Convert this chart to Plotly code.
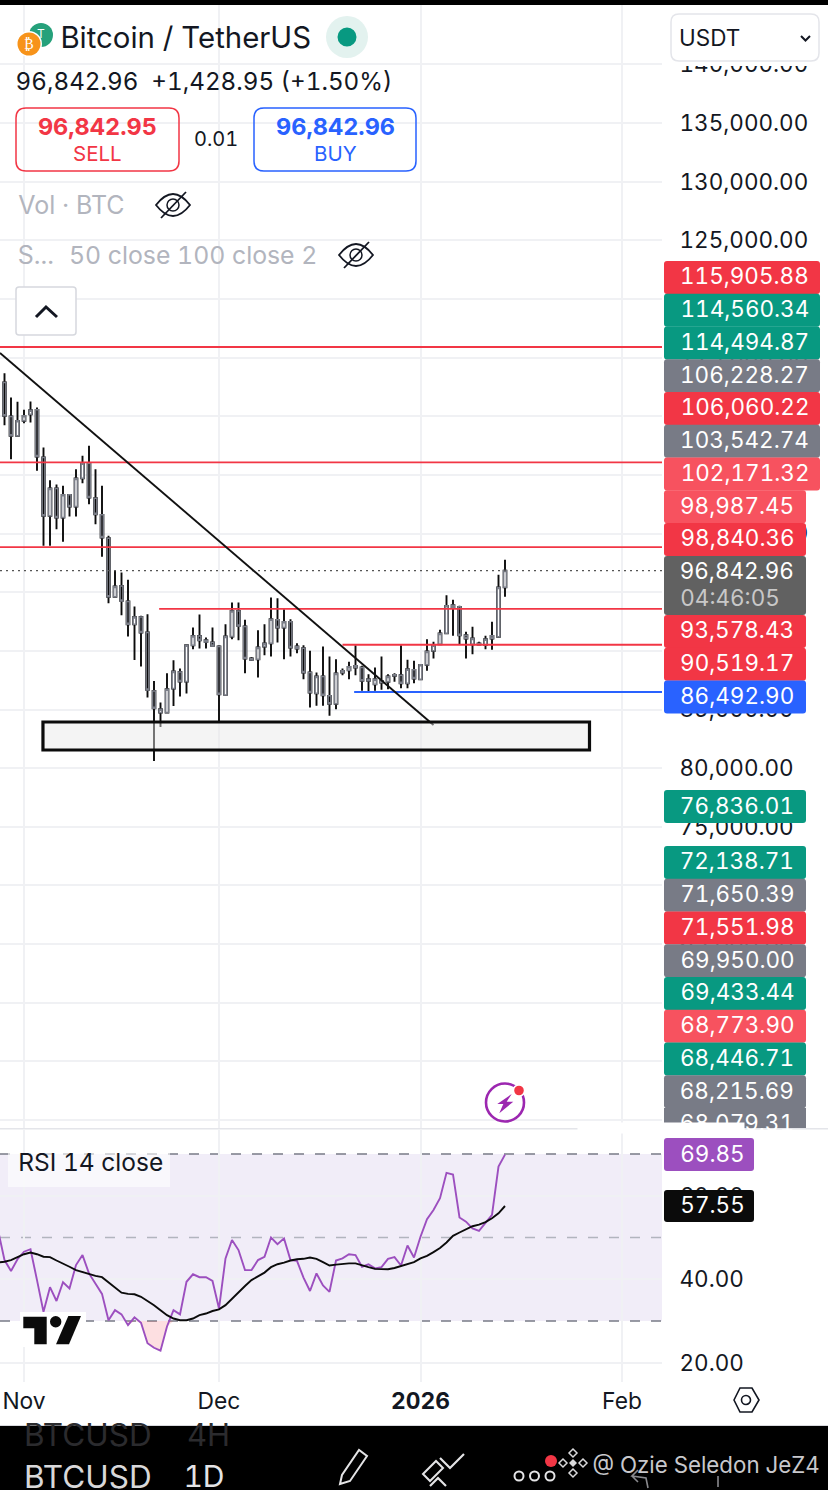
"""
BTC/USDT daily chart with RSI pane, mobile trading app look
"""

import pandas as pd
import plotly.graph_objects as go

# Daily candles, 29 Oct 2025 to 14 Jan 2026
opens = [112877, 109978, 108329, 109608, 110177, 110546, 106482, 101509, 103839, 101366,
         103299, 102304, 104720, 105999, 103015, 101594, 99604, 94603, 95540, 94205,
         92272, 92897, 91562, 86588, 84741, 84741, 86787, 88208, 87384, 90482,
         91277, 90908, 90709, 90368, 86247, 91221, 93409, 92073, 89345, 89288,
         90368, 90654, 92643, 91990, 92473, 90370, 90228, 88153, 86391, 87812,
         86164, 85482, 88153, 88352, 88579, 88579, 87585, 87158, 87442, 87357,
         87954, 87926, 87244, 88380, 87585, 88807, 90000, 90569, 91507, 93894,
         93752, 91336, 90569, 90626, 90512, 91279, 91194, 95414]
highs = [113672, 111598, 111228, 110546, 111257, 110745, 107335, 104550, 104180, 104066,
         103356, 105487, 106624, 107477, 105487, 104066, 99803, 96819, 96677, 96052,
         93778, 92983, 93125, 87441, 85593, 88094, 89203, 88492, 90567, 91988,
         93096, 91135, 91988, 90482, 92272, 94119, 94119, 92642, 89487, 91761,
         92272, 94547, 94491, 93553, 92700, 90654, 90483, 90000, 88153, 90370,
         89517, 89290, 88494, 89062, 90483, 88721, 88011, 88579, 89517, 88011,
         88096, 90483, 89233, 89148, 88863, 90995, 90768, 91791, 94746, 94349,
         93837, 91620, 92047, 90768, 91279, 92473, 96480, 97759]
lows = [109239, 106340, 108329, 109409, 109466, 105345, 98951, 98951, 100372, 99292,
        101452, 101452, 104294, 102503, 100798, 98013, 94063, 94603, 93039, 91221,
        89231, 88663, 86020, 80620, 83519, 84741, 85309, 86105, 86361, 90141,
        90197, 90197, 90368, 84030, 86247, 90993, 90908, 88094, 89146, 87725,
        89629, 89517, 90711, 89290, 89517, 89801, 87585, 85169, 85311, 85311,
        84458, 85027, 87926, 87585, 87926, 86590, 86505, 86590, 86675, 86732,
        87357, 86817, 86817, 87244, 87585, 88295, 89347, 90569, 91507, 91279,
        90569, 89347, 89716, 90483, 90142, 90086, 91137, 94604]
closes = [110035, 108329, 109608, 110035, 110518, 106567, 101509, 103839, 101366, 103299,
          102304, 104692, 105999, 103072, 101651, 99661, 94603, 95484, 94261, 92272,
          92897, 91562, 86673, 85110, 85025, 86730, 88236, 87384, 90482, 91277,
          90908, 90766, 90425, 86304, 91221, 93409, 92130, 89345, 89231, 90283,
          90624, 92700, 91990, 92473, 90284, 90199, 88153, 86448, 87812, 86220,
          85482, 88068, 88295, 88636, 88721, 87442, 87442, 87585, 87300, 87812,
          87869, 87244, 88437, 87641, 88807, 89943, 90483, 91478, 93837, 93695,
          91336, 91052, 91052, 90540, 90995, 91052, 95400, 96842.96]

# RSI and its average, one value more on the left (28 Oct)
rsi = [51.8, 44.6, 42.0, 44.8, 46.6, 47.2, 39.8, 32.2, 38.1, 34.8, 39.3, 37.8, 43.4, 45.8,
       41.4, 39.0, 36.5, 30.2, 32.6, 31.6, 29.0, 30.9, 29.6, 24.7, 23.6, 22.9, 28.7, 32.6,
       31.6, 39.4, 41.2, 40.5, 40.5, 39.6, 33.0, 45.0, 49.4, 47.0, 42.2, 42.2, 44.6, 45.4,
       50.0, 48.4, 49.8, 44.6, 44.4, 40.4, 37.2, 41.4, 38.5, 37.0, 44.5, 45.0, 46.0, 45.8,
       43.0, 43.6, 42.6, 42.9, 44.9, 45.3, 43.3, 48.1, 45.2, 50.2, 54.4, 56.6, 59.4, 65.5,
       65.1, 54.8, 53.8, 52.2, 51.6, 53.5, 55.4, 67.0, 69.85]
rsi_ma = [44.0, 44.2, 44.6, 45.4, 46.0, 46.4, 46.0, 45.4, 45.3, 44.5, 43.8, 43.0, 42.2, 41.7,
          41.2, 40.8, 40.5, 39.2, 38.0, 36.8, 36.5, 36.4, 35.8, 34.9, 33.8, 32.6, 31.4, 30.6,
          30.2, 30.2, 30.6, 31.4, 31.8, 32.4, 32.8, 33.8, 35.4, 37.0, 38.4, 39.8, 40.6, 41.6,
          42.9, 43.6, 44.0, 44.5, 44.8, 44.9, 45.2, 44.9, 44.1, 43.3, 43.5, 43.7, 43.8, 43.8,
          43.3, 42.9, 42.5, 42.4, 42.4, 42.7, 43.2, 43.7, 44.1, 45.0, 45.6, 46.5, 47.5, 48.8,
          50.4, 51.2, 52.0, 52.7, 53.1, 53.7, 54.6, 55.8, 57.55]

dates = pd.date_range('2025-10-29', periods=len(closes), freq='D')
rsi_dates = pd.date_range('2025-10-28', periods=len(rsi), freq='D')

# Drawn levels
red_levels = [115905.88, 106060.22, 98840.36, 93578.43, 90519.17]
red_starts = ['2025-10-28', '2025-10-28', '2025-10-28', '2025-11-21 19:00', '2025-12-20']
blue_level = 86492.90
blue_start = '2025-12-21 19:00'
last_price = 96842.96
trend_x = ['2025-10-28 07:23', '2026-01-03']
trend_y = [115392, 83680]
zone_x = ['2025-11-03 22:00', '2026-01-27']
zone_y = [81548, 83935]

# Price tags on the right axis
tags_top = ['115,905.88', '114,560.34', '114,494.87', '106,228.27', '106,060.22', '103,542.74',
            '102,171.32', '98,987.45', '98,840.36']
tags_top_colors = ['red', 'green', 'green', 'gray', 'red', 'gray', 'pink', 'pink', 'red']
tags_mid = ['93,578.43', '90,519.17', '86,492.90']
tags_mid_colors = ['red', 'red', 'blue']
tags_low = ['72,138.71', '71,650.39', '71,551.98', '69,950.00', '69,433.44', '68,773.90',
            '68,446.71', '68,215.69', '68,079.31']
tags_low_colors = ['green', 'gray', 'red', 'gray', 'green', 'pink', 'green', 'gray', 'gray']

COLORS = {
    'red': '#F23645',
    'pink': '#F7525F',
    'green': '#089981',
    'gray': '#787B86',
    'blue': '#2962FF',
    'purple': '#9C4FBF',
    'grid': '#F0F1F4',
    'text': '#131722',
    'muted': '#B2B5BE',
    'body': '#7B7E88',
}
FONT = 'Inter, Arial, sans-serif'
W, H = 828, 1490
PRICE_W = 662


def px(x):
    return x / W


def py(y):
    return 1 - y / H


shapes = []
notes = []


def box(x0, y0, x1, y1, fill='rgba(0,0,0,0)', line=None, width=1.5, r=0):
    # rounded rectangle in page pixels
    d = (f'M {px(x0 + r)} {py(y0)} L {px(x1 - r)} {py(y0)} Q {px(x1)} {py(y0)} {px(x1)} {py(y0 + r)} '
         f'L {px(x1)} {py(y1 - r)} Q {px(x1)} {py(y1)} {px(x1 - r)} {py(y1)} '
         f'L {px(x0 + r)} {py(y1)} Q {px(x0)} {py(y1)} {px(x0)} {py(y1 - r)} '
         f'L {px(x0)} {py(y0 + r)} Q {px(x0)} {py(y0)} {px(x0 + r)} {py(y0)} Z')
    shapes.append(dict(type='path', path=d, xref='paper', yref='paper', fillcolor=fill, layer='above',
                       line=dict(color=line or 'rgba(0,0,0,0)', width=width if line else 0)))


def circle(cx, cy, r, fill='rgba(0,0,0,0)', line=None, width=1.5):
    shapes.append(dict(type='circle', xref='paper', yref='paper', layer='above',
                       x0=px(cx - r), x1=px(cx + r), y0=py(cy + r), y1=py(cy - r), fillcolor=fill,
                       line=dict(color=line or 'rgba(0,0,0,0)', width=width if line else 0)))


def poly(points, fill='rgba(0,0,0,0)', line=None, width=1.5, close=True):
    d = 'M ' + ' L '.join(f'{px(x)} {py(y)}' for x, y in points) + (' Z' if close else '')
    shapes.append(dict(type='path', path=d, xref='paper', yref='paper', fillcolor=fill, layer='above',
                       line=dict(color=line or 'rgba(0,0,0,0)', width=width if line else 0)))


def label(x, y, s, size=22.5, color=COLORS['text'], anchor='center', family=FONT):
    notes.append(dict(x=px(x), y=py(y), xref='paper', yref='paper', text=s, showarrow=False,
                      xanchor=anchor, yanchor='middle', borderpad=0,
                      font=dict(size=size, color=color, family=family)))


def eye(cx, cy):
    d = (f'M {px(cx - 17)} {py(cy)} Q {px(cx)} {py(cy - 22)} {px(cx + 17)} {py(cy)} '
         f'Q {px(cx)} {py(cy + 22)} {px(cx - 17)} {py(cy)} Z')
    shapes.append(dict(type='path', path=d, xref='paper', yref='paper', layer='above',
                       line=dict(color='#131722', width=1.8)))
    circle(cx, cy, 6, line='#131722', width=1.5)
    poly([(cx - 12, cy + 13), (cx + 13, cy - 13)], line='#131722', width=1.8, close=False)


fig = go.Figure()

# Wicks first, then the bodies on top with a grey outline
fig.add_trace(go.Candlestick(
    x=dates, open=opens, high=highs, low=lows, close=closes,
    increasing=dict(line=dict(color='#0B0B0B', width=1.9), fillcolor='#0B0B0B'),
    decreasing=dict(line=dict(color='#0B0B0B', width=1.9), fillcolor='#0B0B0B'),
    whiskerwidth=0, showlegend=False, hoverinfo='skip',
))
fig.add_trace(go.Candlestick(
    x=dates, open=opens, close=closes,
    high=[max(o, c) for o, c in zip(opens, closes)],
    low=[min(o, c) for o, c in zip(opens, closes)],
    increasing=dict(line=dict(color=COLORS['body'], width=1.5), fillcolor='#FFFFFF'),
    decreasing=dict(line=dict(color=COLORS['body'], width=1.5), fillcolor='#0B0B0B'),
    whiskerwidth=0, showlegend=False,
))

# Horizontal levels
x_start = '2025-10-28 07:23'
x_end = '2026-02-07 03:41'
for level, start in zip(red_levels, red_starts):
    fig.add_trace(go.Scatter(x=[start, x_end], y=[level, level], mode='lines', showlegend=False,
                             line=dict(color=COLORS['red'], width=1.8), hoverinfo='skip'))
fig.add_trace(go.Scatter(x=[blue_start, x_end], y=[blue_level, blue_level], mode='lines', showlegend=False,
                         line=dict(color=COLORS['blue'], width=1.8), hoverinfo='skip'))
fig.add_trace(go.Scatter(x=[x_start, x_end], y=[last_price, last_price], mode='lines', showlegend=False,
                         line=dict(color='#555555', width=1.3, dash='2px,4px'), hoverinfo='skip'))
fig.add_trace(go.Scatter(x=trend_x, y=trend_y, mode='lines', showlegend=False,
                         line=dict(color='#111111', width=1.9), hoverinfo='skip'))

# Oversold shading, then RSI lines
fig.add_trace(go.Scatter(x=rsi_dates[20:28], y=[30] * 8, mode='lines', xaxis='x2', yaxis='y2',
                         line=dict(width=0), showlegend=False, hoverinfo='skip'))
fig.add_trace(go.Scatter(x=rsi_dates[20:28], y=[min(v, 30) for v in rsi[20:28]], mode='lines',
                         xaxis='x2', yaxis='y2', line=dict(width=0), fill='tonexty',
                         fillcolor='rgba(242,54,69,0.16)', showlegend=False, hoverinfo='skip'))
fig.add_trace(go.Scatter(x=rsi_dates, y=rsi, mode='lines', xaxis='x2', yaxis='y2', showlegend=False,
                         line=dict(color=COLORS['purple'], width=1.9), cliponaxis=True))
fig.add_trace(go.Scatter(x=rsi_dates, y=rsi_ma, mode='lines', xaxis='x2', yaxis='y2', showlegend=False,
                         line=dict(color='#0B0B0B', width=1.9)))

# Support zone over the candles
shapes.append(dict(type='rect', xref='x', yref='y', x0=zone_x[0], x1=zone_x[1], y0=zone_y[0], y1=zone_y[1],
                   fillcolor='rgba(230,230,230,0.45)', line=dict(color='#0B0B0B', width=3.2), layer='above'))

# RSI band and its dashed levels
shapes.append(dict(type='rect', xref='paper', yref='y2', x0=0, x1=px(PRICE_W), y0=30, y1=70,
                   fillcolor='rgba(126,87,194,0.11)', line=dict(width=0), layer='below'))
for level, color in [(70, '#787B86'), (50, '#B2B5BE'), (30, '#787B86')]:
    shapes.append(dict(type='line', xref='paper', yref='y2', x0=0, x1=px(PRICE_W), y0=level, y1=level,
                       line=dict(color=color, width=1.6, dash='10px,11px'), layer='below'))

# White cover behind the currency selector
box(PRICE_W + 1, 5, W, 66, fill='#FFFFFF')

# Price tags
row = 32.75
nudge = 1.4  # text sits a little above the middle of a tag
for i, (s, c) in enumerate(zip(tags_top, tags_top_colors)):
    top = 261 + i * row
    wide = len(s) == 10
    box(664, top, 820 if wide else 806, top + row + 0.3, fill=COLORS[c], r=3)
    label(744.5 if wide else 737, top + row / 2 - nudge, s, color='#FFFFFF')
box(664, 556, 806, 615, fill='#616161', r=3)
label(737, 570, '96,842.96', color='#FFFFFF')
label(730, 597, '04:46:05', color='#C8C8C8')
for i, (s, c) in enumerate(zip(tags_mid, tags_mid_colors)):
    top = 615 + i * row
    box(664, top, 806, top + row + 0.3, fill=COLORS[c], r=3)
    label(737, top + row / 2 - nudge, s, color='#FFFFFF')
box(664, 790, 806, 823, fill=COLORS['green'], r=3)
label(737, 806.5 - nudge, '76,836.01', color='#FFFFFF')
for i, (s, c) in enumerate(zip(tags_low, tags_low_colors)):
    top = 846 + i * row
    bottom = min(top + row + 0.3, 1128)
    box(664, top, 806, bottom, fill=COLORS[c], r=3 if i < 8 else 0)
    label(737, top + row / 2 - nudge, s, color='#FFFFFF')
# hides the lower half of the last tag text
notes.append(dict(x=px(745), y=py(1134), xref='paper', yref='paper', text=' ', showarrow=False,
                  width=166, height=10, bgcolor='#FFFFFF', borderpad=0))
box(664, 1138, 754, 1171, fill=COLORS['purple'], r=3)
label(712, 1155 - nudge, '69.85', color='#FFFFFF')
box(664, 1190, 754, 1222, fill='#0B0B0B', r=3)
label(712, 1206 - nudge, '57.55', color='#FFFFFF')

# Page frame
box(0, 0, W, 5, fill='#000000')
box(0, 1128, W, 1129.5, fill='#E4E5EA')
box(0, 1425, W, 1426.5, fill='#D8D9DE')
box(0, 1426, W, H, fill='#000000')

# Header
circle(41, 35, 12, fill='#26A17B')
label(41, 33, 'T', size=12, color='#FFFFFF')
circle(29, 44, 13, fill='#FFFFFF')
circle(29, 44, 11.5, fill='#F7931A')
label(29, 44, '₿', size=14, color='#FFFFFF', family='DejaVu Sans')
label(185, 37.5, 'Bitcoin / TetherUS', size=29.4)
circle(347, 37, 21, fill='#E3F2EF')
circle(347, 37, 9.5, fill=COLORS['green'])
label(204, 81, '96,842.96&nbsp;&nbsp;+1,428.95 (+1.50%)', size=24.2)

box(16, 108, 179, 171, line=COLORS['red'], r=10)
label(97.5, 126, '<b>96,842.95</b>', size=23.5, color=COLORS['red'])
label(97, 153, 'SELL', size=20.5, color=COLORS['red'])
label(216, 139, '0.01', size=20)
box(254, 108, 416, 171, line=COLORS['blue'], r=10)
label(335.5, 126, '<b>96,842.96</b>', size=23.5, color=COLORS['blue'])
label(335, 153, 'BUY', size=20.5, color=COLORS['blue'])

label(71, 205, 'Vol · BTC', size=25, color=COLORS['muted'])
eye(173, 205)
label(36, 255, 'S...', size=25, color=COLORS['muted'])
label(193, 255, '50 close 100 close 2', size=24.8, color=COLORS['muted'])
eye(356, 255)
box(16, 287, 76, 335, fill='#FFFFFF', line='#D6D8DE', width=1.5, r=3)
poly([(36, 317), (46, 307), (57, 317)], line='#131722', width=3, close=False)

box(671, 14, 819, 61, fill='#FFFFFF', line='#E4E5EA', width=1.5, r=8)
label(709, 37.5, 'USDT', size=22.5)
poly([(801, 36), (805.5, 40.5), (810, 36)], line='#131722', width=2, close=False)

# Replay button
circle(505, 1102.5, 19, line='#9C27B0', width=2.6)
poly([(511.7, 1094), (497.3, 1104), (503.3, 1104), (499.3, 1113.3), (513.3, 1101.7), (506.7, 1101.7)],
     fill='#9C27B0')
circle(519, 1090.5, 6.5, fill='#FFFFFF')
circle(519, 1090.5, 4.8, fill=COLORS['red'])

# RSI header and logo
box(8, 1153, 170, 1187, fill='rgba(255,255,255,0.6)')
label(90, 1162, 'RSI 14 close', size=24.5)
box(20, 1312, 86, 1347, fill='#FFFFFF')
poly([(23.3, 1316.7), (46.7, 1316.7), (46.7, 1344.3), (34.3, 1344.3), (34.3, 1328.3), (23.3, 1328.3)],
     fill='#0B0B0B')
circle(55.7, 1321.7, 5.7, fill='#0B0B0B')
poly([(68.3, 1316), (81, 1316), (69, 1344.3), (56, 1344.3)], fill='#0B0B0B')

# Settings hexagon at the end of the time axis
poly([(734, 1400), (740, 1388), (752, 1388), (759, 1400), (752, 1412), (740, 1412)], line='#131722', width=1.6)
circle(746, 1400, 4.5, line='#131722', width=1.6)

# Bottom toolbar
label(88, 1434, 'BTCUSD', size=31.5, color='#2B2B2E')
label(208, 1434, '4H', size=31, color='#2B2B2E')
label(88, 1476, 'BTCUSD', size=31.5, color='#D8D8DA')
label(204, 1476, '1D', size=30, color='#E4E4E6')
poly([(340, 1484), (342, 1475), (359, 1450), (367, 1456), (350, 1481), (340, 1484)], line='#E4E4E6', width=2)
poly([(423, 1474), (436, 1461), (443, 1468), (430, 1481), (423, 1474)], line='#E4E4E6', width=2)
poly([(440, 1458), (450, 1468), (464, 1454)], line='#E4E4E6', width=2.2, close=False)
poly([(430, 1486), (438, 1478), (446, 1486)], line='#E4E4E6', width=2.2, close=False)
for cx in (519, 534.5, 550):
    circle(cx, 1476, 4.5, line='#E4E4E6', width=2)
circle(551, 1461, 6, fill=COLORS['red'])
for cx, cy in ((573, 1453), (563, 1463), (583, 1463), (573, 1473)):
    poly([(cx, cy - 4), (cx + 4, cy), (cx, cy + 4), (cx - 4, cy)], line='#D8D8DA', width=1.5)
poly([(573, 1459), (577, 1463), (573, 1467), (569, 1463)], fill='#D8D8DA')
label(706, 1464, '@ Ozie Seledon JeZ4', size=22.3, color='#C8C8CC')
poly([(648, 1488), (646, 1478), (632, 1476), (638, 1470), (632, 1476), (638, 1482)], line='#8A8A8E', width=1.6,
     close=False)
poly([(718, 1487), (718, 1476)], line='#8A8A8E', width=1.6, close=False)

fig.update_layout(
    width=W, height=H,
    margin=dict(l=0, r=0, t=0, b=0, autoexpand=False),
    paper_bgcolor='#FFFFFF',
    plot_bgcolor='#FFFFFF',
    showlegend=False,
    boxgap=0.4,
    font=dict(family=FONT, size=23, color=COLORS['text']),
    shapes=shapes,
    annotations=notes,
    xaxis=dict(
        domain=[0, px(PRICE_W)], range=[x_start, x_end], type='date', anchor='y', automargin=False,
        rangeslider=dict(visible=False), showticklabels=False, ticks='',
        tickvals=['2025-11-01', '2025-12-01', '2026-01-01', '2026-02-01'],
        showgrid=True, gridcolor=COLORS['grid'], gridwidth=1.5, zeroline=False, showline=False,
    ),
    xaxis2=dict(
        domain=[0, px(PRICE_W)], range=[x_start, x_end], type='date', anchor='y2', automargin=False,
        tickvals=['2025-11-01', '2025-12-01', '2026-01-01', '2026-02-01'],
        ticktext=['Nov', 'Dec', '<b>2026</b>', 'Feb'],
        tickfont=dict(size=22.8, family=FONT), ticks='', ticklabelstandoff=3,
        showgrid=True, gridcolor=COLORS['grid'], gridwidth=1.5, zeroline=False, showline=False,
    ),
    yaxis=dict(
        domain=[py(1128), py(5)], range=[49324, 145060], anchor='x', side='right', automargin=False,
        tickmode='linear', tick0=50000, dtick=5000, tickformat=',.2f',
        tickfont=dict(size=22.5, family=FONT), ticks='outside', ticklen=12, tickcolor='rgba(0,0,0,0)',
        showgrid=True, gridcolor=COLORS['grid'], gridwidth=1.5, zeroline=False, showline=False,
    ),
    yaxis2=dict(
        domain=[py(1382), py(1130)], range=[15.4, 75.75], anchor='x2', side='right', automargin=False,
        tickmode='linear', tick0=20, dtick=20, tickformat='.2f',
        tickfont=dict(size=22.5, family=FONT), ticks='outside', ticklen=12, tickcolor='rgba(0,0,0,0)',
        showgrid=True, gridcolor=COLORS['grid'], gridwidth=1.5, zeroline=False, showline=False,
    ),
)

# Reset page margin and use fixed width digits like the app does
page_fix = """
document.body.style.margin = '0';
document.documentElement.style.overflow = 'hidden';
var tnum = document.createElement('style');
tnum.textContent = 'text {font-feature-settings: "tnum" 1;}';
document.head.appendChild(tnum);
"""
fig.write_html('out.html', config={'displayModeBar': False}, post_script=page_fix)
